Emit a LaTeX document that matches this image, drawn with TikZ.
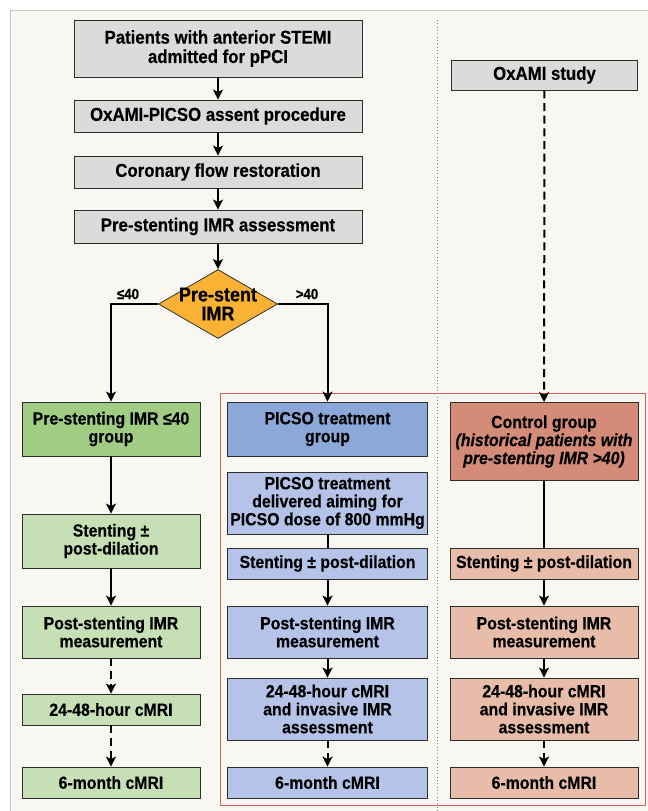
\documentclass[tikz,border=0pt]{standalone}
\usepackage{fontspec}
\setmainfont{Liberation Sans}[FakeStretch=0.9, BoldFeatures={FakeBold=0.4}, BoldItalicFeatures={FakeBold=0.4}]
\usetikzlibrary{arrows.meta,shapes.geometric}

\definecolor{bgcream}{HTML}{F8F7F1}
\definecolor{bgline}{HTML}{C4C4C4}
\definecolor{boxline}{HTML}{2E2E2E}
\definecolor{grayfill}{HTML}{DBDBDB}
\definecolor{greendark}{HTML}{A0CC84}
\definecolor{greenlight}{HTML}{C6DFB5}
\definecolor{bluedark}{HTML}{8CA8D8}
\definecolor{bluelight}{HTML}{B4C3E7}
\definecolor{salmondark}{HTML}{D48B78}
\definecolor{salmonlight}{HTML}{E7BCA8}
\definecolor{orangefill}{HTML}{F9B234}
\definecolor{framered}{HTML}{D65F5C}

\tikzset{every picture/.style={line width=0.75pt}}
\tikzset{
  box/.style={draw=boxline, line width=0.6pt, align=center, inner sep=1pt, font=\bfseries\fontsize{13.2}{13.5}\selectfont},
  topbox/.style={box, fill=grayfill, minimum width=216pt, font=\bfseries\fontsize{14}{14.5}\selectfont},
  lbox/.style={box, minimum width=133.5pt},
  mbox/.style={box, minimum width=150pt},
  rbox/.style={box, minimum width=141pt},
  decision/.style={diamond, draw=boxline, line width=0.6pt, fill=orangefill, inner sep=0pt, minimum width=89.25pt, minimum height=51.75pt},
  lbl/.style={font=\bfseries\fontsize{11}{11}\selectfont, inner sep=0pt},
  arr/.style={line width=1.5pt, -{Stealth[length=7.5pt,width=7.5pt,inset=1.8pt]}},
  darr/.style={arr, dash pattern=on 6pt off 3.5pt},
  link/.style={line width=1.5pt},
}

\begin{document}
\begin{tikzpicture}[x=0.75pt,y=0.75pt,yscale=-1,xscale=1]
\useasboundingbox (0,0) rectangle (648,811);

%Background and frames
\fill[bgcream] (10,10) rectangle (648,811);
\draw[bgline] (648,10) -- (10,10) -- (10,811);
\draw[gray, line width=0.5pt, dotted] (437,20) -- (437,811);
\draw[framered, line width=0.7pt] (220,393) rectangle (645,805);

%Top boxes
\node[topbox, minimum height=42.75pt] (pat) at (218,48.5) {Patients with anterior STEMI\\admitted for pPCI};
\node[topbox, minimum height=24pt] (asn) at (218,116) {OxAMI-PICSO assent procedure};
\node[topbox, minimum height=24pt] (flw) at (218,172) {Coronary flow restoration};
\node[topbox, minimum height=24.75pt] (pre) at (218,226.5) {Pre-stenting IMR assessment};
\node[decision, label={[font=\bfseries\fontsize{15}{14.25}\selectfont, align=center]center:Pre-stent\\IMR}] (dia) at (218,304) {};
\node[lbl] (lo) at (128,294) {≤40};
\node[lbl] (hi) at (307,294) {>40};
\node[topbox, minimum width=139pt, minimum height=22.5pt] (oxs) at (544.5,75) {OxAMI study};

%Left column
\node[lbox, fill=greendark, minimum height=40.5pt] (l1) at (111,429) {Pre-stenting IMR ≤40\\group};
\node[lbox, fill=greenlight, minimum height=40.5pt] (l2) at (111,541) {Stenting ±\\post-dilation};
\node[lbox, fill=greenlight, minimum height=39pt] (l3) at (111,632) {Post-stenting IMR\\measurement};
\node[lbox, fill=greenlight, minimum height=23.25pt] (l4) at (111,709.5) {24-48-hour cMRI};
\node[lbox, fill=greenlight, minimum height=23.25pt] (l5) at (111,782.5) {6-month cMRI};

%Middle column
\node[mbox, fill=bluedark, minimum height=40.5pt] (m1) at (327.5,429) {PICSO treatment\\group};
\node[mbox, fill=bluelight, minimum height=46.5pt] (m2) at (327.5,503) {PICSO treatment\\delivered aiming for\\PICSO dose of 800 mmHg};
\node[mbox, fill=bluelight, minimum height=23.25pt] (m3) at (327.5,563.5) {Stenting ± post-dilation};
\node[mbox, fill=bluelight, minimum height=39pt] (m4) at (327.5,632) {Post-stenting IMR\\measurement};
\node[mbox, fill=bluelight, minimum height=46.5pt] (m5) at (327.5,709) {24-48-hour cMRI\\and invasive IMR\\assessment};
\node[mbox, fill=bluelight, minimum height=23.25pt] (m6) at (327.5,782.5) {6-month cMRI};

%Right column
\node[rbox, fill=salmondark, minimum height=58.5pt] (r1) at (544,441.5) {Control group\\\textit{(historical patients with}\\\textit{pre-stenting IMR >40)}};
\node[rbox, fill=salmonlight, minimum height=23.25pt] (r2) at (544,563.5) {Stenting ± post-dilation};
\node[rbox, fill=salmonlight, minimum height=39pt] (r3) at (544,632) {Post-stenting IMR\\measurement};
\node[rbox, fill=salmonlight, minimum height=46.5pt] (r4) at (544,709) {24-48-hour cMRI\\and invasive IMR\\assessment};
\node[rbox, fill=salmonlight, minimum height=23.25pt] (r5) at (544,782.5) {6-month cMRI};

%Connectors
\draw[arr] (pat) -- (asn);
\draw[arr] (asn) -- (flw);
\draw[arr] (flw) -- (pre);
\draw[arr] (pre) -- (dia);
\draw[arr] (dia.west) -| (l1.north);
\draw[arr] (dia.east) -| (m1.north);
\draw[darr] (oxs) -- (r1);

\draw[arr] (l1) -- (l2);
\draw[arr] (l2) -- (l3);
\draw[darr] (l3) -- (l4);
\draw[darr] (l4) -- (l5);

\draw[link] (m2) -- (m3);
\draw[arr] (m3) -- (m4);
\draw[arr] (m4) -- (m5);
\draw[darr] (m5) -- (m6);

\draw[link] (r1) -- (r2);
\draw[arr] (r2) -- (r3);
\draw[arr] (r3) -- (r4);
\draw[darr] (r4) -- (r5);

\end{tikzpicture}
\end{document}
